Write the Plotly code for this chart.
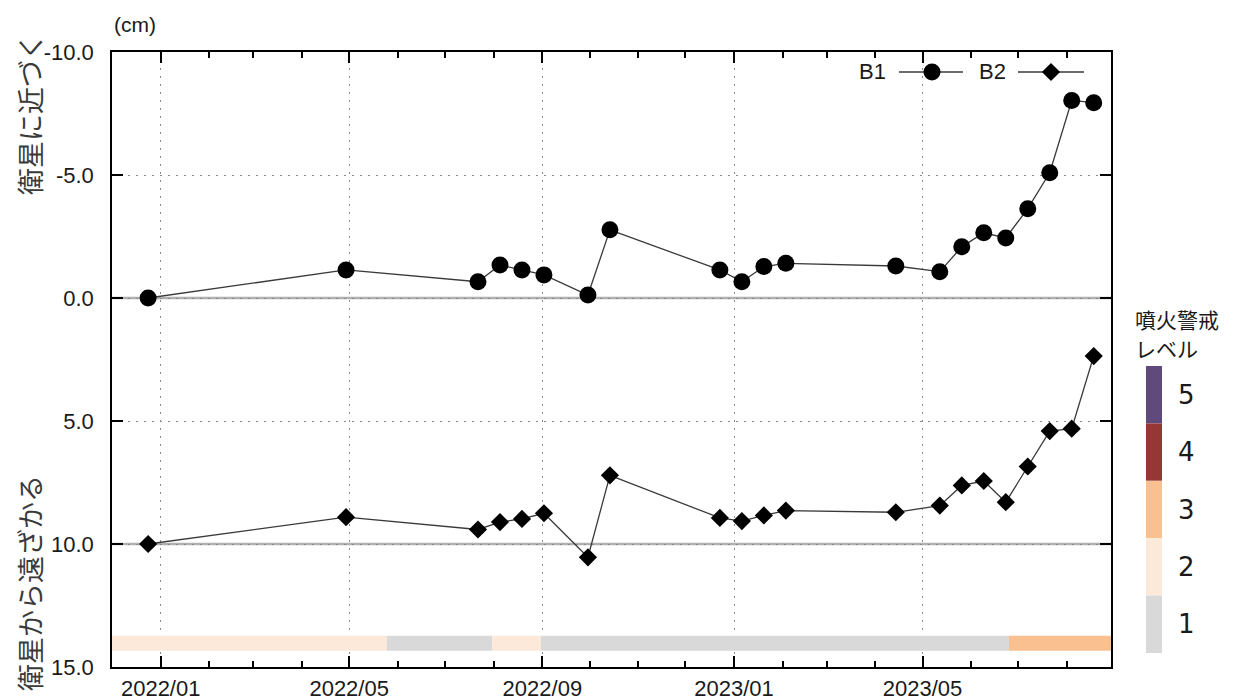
import plotly.graph_objects as go

# ---------------- data ----------------
dates = ["2021-12-24", "2022-04-29", "2022-07-22", "2022-08-05", "2022-08-19",
         "2022-09-02", "2022-09-30", "2022-10-14", "2022-12-23", "2023-01-06",
         "2023-01-20", "2023-02-03", "2023-04-14", "2023-05-12", "2023-05-26",
         "2023-06-09", "2023-06-23", "2023-07-07", "2023-07-21", "2023-08-04",
         "2023-08-18"]
b1 = [0.0, -1.14, -0.66, -1.34, -1.14, -0.94, -0.12, -2.77, -1.14, -0.66,
      -1.28, -1.41, -1.30, -1.07, -2.08, -2.65, -2.44, -3.63, -5.09, -8.03, -7.94]
b2 = [0.0, -1.09, -0.59, -0.89, -1.02, -1.25, 0.54, -2.79, -1.06, -0.93,
      -1.16, -1.36, -1.29, -1.56, -2.38, -2.56, -1.70, -3.15, -4.59, -4.69, -7.64]
b2_offset = 10.0

level_start = ["2021-12-01", "2022-05-25", "2022-07-31", "2022-08-31", "2023-06-25"]
level_end = ["2022-05-25", "2022-07-31", "2022-08-31", "2023-06-25", "2023-08-29"]
level_values = [2, 1, 2, 1, 3]
level_band = (13.73, 14.34)

level_names = [1, 2, 3, 4, 5]
level_colors = {1: "#D9D9D9", 2: "#FDE9D9", 3: "#FAC090", 4: "#953735", 5: "#604A7B"}

y_ticks = [-10, -5, 0, 5, 10, 15]
y_ticktext = ["-10.0", "-5.0", "0.0", "5.0", "10.0", "15.0"]
x_range = ["2021-12-01", "2023-08-29"]

# ---------------- layout geometry ----------------
W, H = 1240, 700
OFF = 8                      # default page body margin
L, R, T, B = 112, 1111, 52, 667   # plot area in screen pixels


def px(xp):
    return (xp - L) / (R - L)


def py(yp):
    return (B - yp) / (B - T)


LINE = "#3a3a3a"
TICKFONT = dict(family="Liberation Sans, Arial, sans-serif", size=22, color="#1a1a1a")

fig = go.Figure()

fig.add_trace(go.Scatter(
    x=dates, y=b1, mode="lines+markers", name="B1", showlegend=False,
    line=dict(color=LINE, width=1.3),
    marker=dict(symbol="circle", size=17, color="black"),
))
fig.add_trace(go.Scatter(
    x=dates, y=[v + b2_offset for v in b2], mode="lines+markers", name="B2",
    showlegend=False,
    line=dict(color=LINE, width=1.3),
    marker=dict(symbol="diamond", size=14, color="black"),
))

# legend samples drawn on an overlay axis (0..1 across plot area)
leg_y = py(72)
fig.add_trace(go.Scatter(
    x=[px(899), px(963)], y=[leg_y, leg_y], mode="lines", xaxis="x2", yaxis="y2",
    line=dict(color=LINE, width=1.3), showlegend=False, hoverinfo="skip"))
fig.add_trace(go.Scatter(
    x=[px(932)], y=[leg_y], mode="markers", xaxis="x2", yaxis="y2",
    marker=dict(symbol="circle", size=17, color="black"), showlegend=False, hoverinfo="skip"))
fig.add_trace(go.Scatter(
    x=[px(1018), px(1084)], y=[leg_y, leg_y], mode="lines", xaxis="x2", yaxis="y2",
    line=dict(color=LINE, width=1.3), showlegend=False, hoverinfo="skip"))
fig.add_trace(go.Scatter(
    x=[px(1051)], y=[leg_y], mode="markers", xaxis="x2", yaxis="y2",
    marker=dict(symbol="diamond", size=14, color="black"), showlegend=False, hoverinfo="skip"))

shapes = []
# solid grey reference lines at 0 and 10
for yv in (0, b2_offset):
    shapes.append(dict(type="line", xref="paper", yref="y", x0=0, x1=1, y0=yv, y1=yv,
                       line=dict(color="#b0b0b0", width=2.5), layer="below"))
# level band along the bottom
for s, e, lv in zip(level_start, level_end, level_values):
    shapes.append(dict(type="rect", xref="x", yref="y", x0=s, x1=e,
                       y0=level_band[0], y1=level_band[1],
                       fillcolor=level_colors[lv], line=dict(width=0), layer="above"))

annotations = []
# colour key on the right
key_top, key_step = 366, 57.4
for i, lv in enumerate(reversed(level_names)):
    y0p = key_top + i * key_step
    y1p = y0p + key_step
    shapes.append(dict(type="rect", xref="paper", yref="paper",
                       x0=px(1146), x1=px(1162), y0=py(y1p), y1=py(y0p),
                       fillcolor=level_colors[lv], line=dict(width=0)))
    annotations.append(dict(x=px(1186), y=py((y0p + y1p) / 2), xref="paper", yref="paper",
                            text=str(lv), showarrow=False, xanchor="center", yanchor="middle",
                            font=dict(family="DejaVu Sans, Verdana, sans-serif", size=26,
                                      color="#1a1a1a")))

jp = "Noto Sans CJK JP, sans-serif"
annotations += [
    dict(x=px(1134), y=py(319), xref="paper", yref="paper", text="噴火警戒",
         showarrow=False, xanchor="left", yanchor="middle", borderpad=0,
         font=dict(family=jp, size=21, color="#1a1a1a")),
    dict(x=px(1134), y=py(348), xref="paper", yref="paper", text="レベル",
         showarrow=False, xanchor="left", yanchor="middle", borderpad=0,
         font=dict(family=jp, size=21, color="#1a1a1a")),
    dict(x=px(112), y=py(25), xref="paper", yref="paper", text="(cm)",
         showarrow=False, xanchor="left", yanchor="middle",
         font=dict(family="Liberation Sans, Arial, sans-serif", size=21, color="#1a1a1a")),
    dict(x=px(29), y=py(114), xref="paper", yref="paper", text="衛星に近づく",
         showarrow=False, textangle=-90, xanchor="center", yanchor="middle", borderpad=0,
         font=dict(family=jp, size=27, color="#3a3a3a")),
    dict(x=px(29), y=py(583), xref="paper", yref="paper", text="衛星から遠ざかる",
         showarrow=False, textangle=-90, xanchor="center", yanchor="middle", borderpad=0,
         font=dict(family=jp, size=27, color="#3a3a3a")),
    dict(x=px(888), y=leg_y, xref="paper", yref="paper", text="B1",
         showarrow=False, xanchor="right", yanchor="middle", font=TICKFONT),
    dict(x=px(1008), y=leg_y, xref="paper", yref="paper", text="B2",
         showarrow=False, xanchor="right", yanchor="middle", font=TICKFONT),
]

fig.update_layout(
    width=W, height=H,
    margin=dict(l=L - OFF, r=W - (R - OFF), t=T - OFF, b=H - (B - OFF), autoexpand=False),
    paper_bgcolor="white", plot_bgcolor="white",
    showlegend=False,
    shapes=shapes, annotations=annotations,
    xaxis=dict(
        type="date", range=x_range, automargin=False,
        dtick="M4", tick0="2022-01-01", tickformat="%Y/%m",
        ticks="inside", ticklen=11, tickwidth=1.5, tickcolor="black",
        showline=True, linecolor="black", linewidth=1.5, mirror="ticks",
        showgrid=True, gridcolor="#8a8a8a", gridwidth=1, griddash="2px,6px",
        minor=dict(dtick="M1", tick0="2022-01-01", ticks="inside", ticklen=6,
                   tickwidth=1.5, tickcolor="black", showgrid=False),
        tickfont=TICKFONT, ticklabelstandoff=1, zeroline=False,
    ),
    yaxis=dict(
        range=[15, -10], tickvals=y_ticks, ticktext=y_ticktext, automargin=False,
        ticks="inside", ticklen=11, tickwidth=1.5, tickcolor="black",
        showline=True, linecolor="black", linewidth=1.5, mirror="ticks",
        showgrid=True, gridcolor="#8a8a8a", gridwidth=1, griddash="2px,6px",
        tickfont=TICKFONT, ticklabelstandoff=12, zeroline=False,
    ),
    xaxis2=dict(overlaying="x", range=[0, 1], visible=False, fixedrange=True),
    yaxis2=dict(overlaying="y", range=[0, 1], visible=False, fixedrange=True),
)

fig.write_html("out.html")
